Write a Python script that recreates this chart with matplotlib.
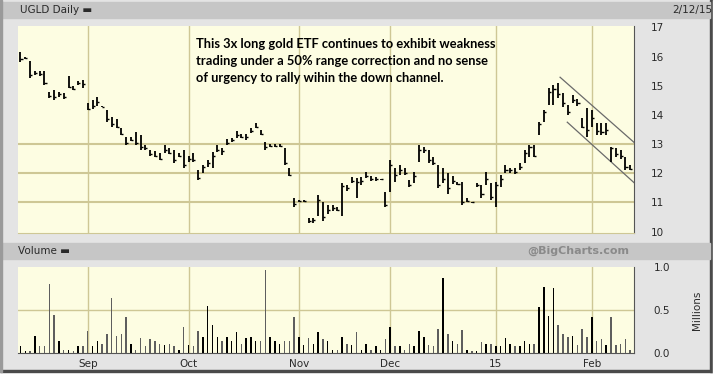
import numpy as np
import pandas as pd
import matplotlib
matplotlib.use("Agg")
import matplotlib.pyplot as plt
from matplotlib.patches import Rectangle

W, H = 717, 385

# ---- data ----
holidays = ["2014-09-01", "2014-11-27", "2014-12-25", "2015-01-01", "2015-01-19"]
dates = pd.bdate_range("2014-08-12", "2015-02-12")
dates = dates[~dates.isin(pd.to_datetime(holidays))]

highs = [
    # Aug
    16.15, 16.0, 15.84, 15.5, 15.5, 15.5, 14.8, 14.86, 14.8, 14.75, 15.32, 14.98, 15.15, 15.2,
    # Sep
    14.41, 14.5, 14.6, 14.32, 14.17, 13.94, 13.85, 13.55, 13.25, 13.25, 13.42, 13.31, 12.97,
    12.8, 12.75, 12.7, 12.97, 12.85, 12.8, 12.7, 12.8,
    # Oct
    12.6, 12.7, 12.1, 12.3, 12.45, 12.72, 12.97, 12.86, 13.17, 13.2, 13.45, 13.35, 13.35,
    13.55, 13.72, 13.5, 13.07, 13.0, 13.0, 13.0, 12.86, 12.17, 11.17,
    # Nov
    11.1, 11.1, 10.48, 10.48, 11.24, 11.0, 10.9, 10.9, 10.85, 11.66, 11.6, 11.86, 11.83,
    11.86, 12.03, 11.9, 11.86, 11.82, 11.35,
    # Dec
    12.45, 12.17, 12.28, 12.17, 11.76, 12.03, 12.97, 12.9, 12.8, 12.55, 12.28, 12.17, 12.0,
    11.9, 11.7, 11.7, 11.17, 11.02, 11.66, 11.59, 12.03, 11.66,
    # Jan
    11.7, 11.93, 12.28, 12.17, 12.17, 12.34, 12.8, 12.97, 12.97, 13.76, 14.17, 14.93, 15.03,
    15.1, 14.76, 14.34, 14.69, 14.55, 13.9, 14.24,
    # Feb
    14.17, 13.72, 13.72, 13.72, 12.9, 12.86, 12.8, 12.55, 12.28,
]
lows = [
    15.8, 15.93, 15.27, 15.38, 15.32, 15.03, 14.58, 14.52, 14.6, 14.55, 14.92, 14.86, 15.03, 14.92,
    14.17, 14.2, 14.3, 14.26, 13.77, 13.6, 13.55, 13.31, 12.97, 13.1, 12.97, 12.8, 12.8,
    12.6, 12.55, 12.45, 12.7, 12.65, 12.35, 12.55, 12.17,
    12.4, 12.38, 11.76, 12.0, 12.2, 12.17, 12.72, 12.62, 12.97, 13.07, 13.2, 13.2, 13.15,
    13.38, 13.55, 13.3, 12.8, 12.9, 12.9, 12.9, 12.28, 11.9, 10.83,
    11.0, 11.0, 10.31, 10.31, 10.55, 10.38, 10.6, 10.7, 10.7, 10.55, 11.4, 11.66, 11.17,
    11.6, 11.83, 11.75, 11.75, 11.76, 10.83,
    11.35, 11.7, 11.93, 11.93, 11.52, 11.66, 12.38, 12.7, 12.34, 12.28, 11.48, 11.66, 11.3,
    11.65, 11.6, 10.9, 11.0, 10.98, 11.52, 11.14, 11.59, 11.07,
    10.83, 11.52, 12.0, 12.0, 11.97, 12.1, 12.34, 12.55, 12.55, 13.31, 13.76, 14.34, 14.34,
    14.59, 14.28, 14.0, 14.41, 14.3, 13.55, 13.24,
    13.59, 13.31, 13.31, 13.31, 12.38, 12.55, 12.5, 12.1, 12.1,
]
closes = [
    15.9, 15.95, 15.35, 15.45, 15.4, 15.1, 14.65, 14.6, 14.7, 14.6, 14.95, 14.9, 15.1, 15.05,
    14.2, 14.3, 14.45, 14.28, 13.85, 13.7, 13.6, 13.35, 13.05, 13.15, 13.05, 12.9, 12.85,
    12.65, 12.6, 12.5, 12.8, 12.7, 12.45, 12.6, 12.3,
    12.5, 12.45, 11.85, 12.2, 12.35, 12.6, 12.8, 12.75, 13.05, 13.15, 13.3, 13.25, 13.25,
    13.45, 13.6, 13.35, 12.9, 12.95, 12.95, 12.95, 12.35, 11.95, 10.95,
    11.05, 11.05, 10.35, 10.4, 11.1, 10.5, 10.75, 10.8, 10.75, 11.55, 11.5, 11.75, 11.7,
    11.75, 11.9, 11.8, 11.8, 11.8, 10.9,
    12.3, 11.95, 12.1, 12.0, 11.6, 11.9, 12.8, 12.8, 12.45, 12.35, 11.6, 11.8, 11.5,
    11.75, 11.65, 11.0, 11.05, 11.0, 11.6, 11.3, 11.8, 11.2,
    11.6, 11.8, 12.1, 12.1, 12.05, 12.2, 12.7, 12.9, 12.6, 13.7, 14.1, 14.8, 14.9,
    14.7, 14.4, 14.1, 14.5, 14.4, 13.6, 13.5,
    13.9, 13.45, 13.4, 13.5, 12.85, 12.65, 12.6, 12.2, 12.15,
]
volume = [  # millions
    0.08, 0.02, 0.02, 0.2, 0.08, 0.08, 0.8, 0.44, 0.14, 0.04, 0.04, 0.02, 0.08, 0.08,
    0.26, 0.08, 0.14, 0.11, 0.22, 0.64, 0.2, 0.22, 0.42, 0.11, 0.04, 0.17, 0.08, 0.16,
    0.14, 0.11, 0.09, 0.11, 0.08, 0.03, 0.3,
    0.09, 0.08, 0.26, 0.19, 0.55, 0.33, 0.19, 0.14, 0.19, 0.14, 0.25, 0.11, 0.17, 0.19,
    0.14, 0.14, 0.96, 0.19, 0.14, 0.1, 0.14, 0.14, 0.42,
    0.19, 0.09, 0.17, 0.11, 0.25, 0.16, 0.14, 0.03, 0.04, 0.19, 0.11, 0.09, 0.25, 0.04,
    0.11, 0.04, 0.08, 0.04, 0.16,
    0.3, 0.08, 0.08, 0.03, 0.11, 0.08, 0.26, 0.19, 0.09, 0.08, 0.28, 0.87, 0.22, 0.14,
    0.11, 0.27, 0.04, 0.02, 0.02, 0.13, 0.11, 0.1,
    0.08, 0.08, 0.17, 0.1, 0.08, 0.08, 0.14, 0.1, 0.11, 0.54, 0.77, 0.43, 0.76, 0.33,
    0.22, 0.19, 0.2, 0.09, 0.28, 0.19,
    0.42, 0.14, 0.16, 0.09, 0.42, 0.09, 0.1, 0.16, 0.04,
]
month_labels = ["Sep", "Oct", "Nov", "Dec", "15", "Feb"]
price_ticks = [10, 11, 12, 13, 14, 15, 16, 17]
price_grid = [11, 12, 13]
vol_ticks = [0.0, 0.5, 1.0]

# down-channel drawn on the chart (bar index, price)
chan_x = [112.4, 127.8]
chan_upper = [15.29, 13.06]
chan_lower_x = [113.9, 127.8]
chan_lower = [13.75, 11.68]

note = ("This 3x long gold ETF continues to exhibit weakness\n"
        "trading under a 50% range correction and no sense\n"
        "of urgency to rally wihin the down channel.")

# ---- layout helpers ----
def px(x0, y0, x1, y1):
    return [x0 / W, 1 - y1 / H, (x1 - x0) / W, (y1 - y0) / H]

idx = np.arange(len(dates))
month_idx = [i for i in range(1, len(dates)) if dates[i].month != dates[i - 1].month]

grid_c = "#cec795"
yellow = "#fdfde2"
txt_c = "#2a2a2a"
lab_font = dict(fontsize=7.5, color=txt_c, family="DejaVu Sans")

fig = plt.figure(figsize=(W / 100, H / 100), dpi=100, facecolor="#e4e4e4")

# frame pieces
fig.patches.append(Rectangle((0, 0), 1, 13 / H, transform=fig.transFigure, color="white", zorder=0))
fig.patches.append(Rectangle((0, 13 / H), 713 / W, 2 / H, transform=fig.transFigure, color="#4a4a4a", zorder=0))
fig.patches.append(Rectangle((710 / W, 13 / H), 3 / W, 1 - 13 / H, transform=fig.transFigure, color="#4a4a4a", zorder=0))
fig.patches.append(Rectangle((713 / W, 0), 4 / W, 1, transform=fig.transFigure, color="white", zorder=0))
fig.patches.append(Rectangle((0, 1 - 18 / H), 710 / W, 16 / H, transform=fig.transFigure, color="#c6c6c6", zorder=0))
fig.patches.append(Rectangle((0, 1 - 259 / H), 710 / W, 16 / H, transform=fig.transFigure, color="#c6c6c6", zorder=0))
fig.patches.append(Rectangle((0, 13 / H), 2 / W, 1 - 13 / H, transform=fig.transFigure, color="#9a9a9a", zorder=0))

fig.text(20 / W, 1 - 10 / H, "UGLD Daily \u25ac", ha="left", va="center", **lab_font)
fig.text(692 / W, 1 - 10 / H, "2/12/15", ha="center", va="center", **lab_font)
fig.text(18 / W, 1 - 251 / H, "Volume \u25ac", ha="left", va="center", **lab_font)
fig.text(578 / W, 1 - 251 / H, "@BigCharts.com", ha="center", va="center",
         fontsize=8, color="#8a8a8a", fontweight="bold", family="DejaVu Sans")

# ---- price panel ----
ax = fig.add_axes(px(18, 26, 634, 233))
ax.set_facecolor(yellow)
ax.set_xlim(-0.52, 127.8)
ax.set_ylim(9.955, 17.045)
for m in month_idx:
    ax.axvline(m, color=grid_c, lw=1, zorder=1)
for g in price_grid:
    ax.axhline(g, color=grid_c, lw=1.5, zorder=1)
ax.vlines(idx, lows, highs, color="black", lw=1.3, zorder=3)
ax.hlines(closes, idx, idx + 0.45, color="black", lw=1.0, zorder=3)
ax.plot(chan_x, chan_upper, color="#6a6a6a", lw=0.9, zorder=2)
ax.plot(chan_lower_x, chan_lower, color="#6a6a6a", lw=0.9, zorder=2)
ax.set_xticks([])
ax.yaxis.tick_right()
ax.set_yticks(price_ticks)
ax.set_yticklabels([str(t) for t in price_ticks], **lab_font)
ax.tick_params(axis="y", length=0, pad=12)
for s in ["top", "left"]:
    ax.spines[s].set_visible(False)
ax.spines["bottom"].set_color(grid_c)
ax.spines["right"].set_color("#555555")

ax.text(196 / W, 1 - 38 / H, note, transform=fig.transFigure, ha="left", va="top",
        fontsize=9.3, fontweight="bold", family="Lato", color="black", linespacing=1.5)

# ---- volume panel ----
av = fig.add_axes(px(18, 267, 634, 353))
av.set_facecolor(yellow)
av.set_xlim(-0.52, 127.8)
av.set_ylim(0, 1.0)
for m in month_idx:
    av.axvline(m, color=grid_c, lw=1, zorder=1)
av.axhline(0.5, color=grid_c, lw=1, zorder=1)
prev = [closes[0]] + closes[:-1]
vcol = ["black" if c >= p else "#5e5e5e" for c, p in zip(closes, prev)]
av.bar(idx, volume, width=0.32, color=vcol, zorder=3)
av.set_xticks(month_idx)
av.set_xticklabels(month_labels, **lab_font)
av.tick_params(axis="x", length=0, pad=4)
av.yaxis.tick_right()
av.set_yticks(vol_ticks)
av.set_yticklabels(["0.0", "0.5", "1.0"], **lab_font)
av.tick_params(axis="y", length=0, pad=14)
for s in ["top", "left"]:
    av.spines[s].set_visible(False)
av.spines["bottom"].set_color("#555555")
av.spines["right"].set_color("#555555")
fig.text(697 / W, 1 - 310 / H, "Millions", rotation=90, ha="center", va="center", **lab_font)

fig.savefig("out.png", dpi=100, facecolor=fig.get_facecolor())
